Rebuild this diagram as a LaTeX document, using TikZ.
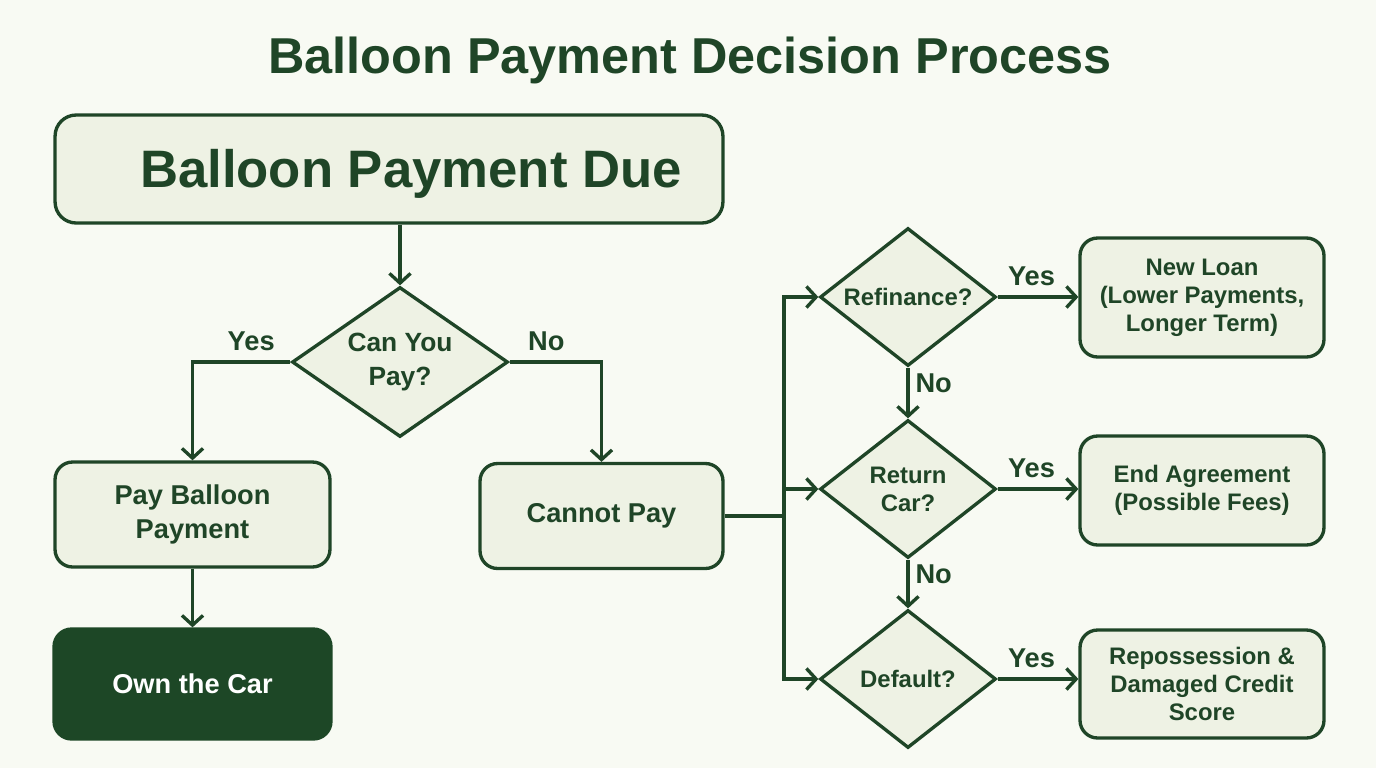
\documentclass[tikz,border=0pt]{standalone}
\usepackage{fontspec}
\setmainfont{Liberation Sans}
\usepackage{xcolor}
\usepackage{tikz}
\usetikzlibrary{arrows.meta,positioning,calc,shapes.geometric}
\definecolor{ink}{HTML}{1F4527}
\definecolor{paper}{HTML}{F8FAF3}
\definecolor{pale}{HTML}{EEF2E4}
\definecolor{deep}{HTML}{1D4726}

\begin{document}
\begin{tikzpicture}[
  x=0.02cm, y=-0.02cm,
  box/.style={draw=ink, line width=1.9pt, rounded corners=10pt, fill=pale, align=center, text=ink,
    font=\bfseries\fontsize{15.5}{19}\selectfont},
  ask/.style={draw=ink, line width=1.9pt, diamond, fill=pale, align=center, text=ink, inner sep=0pt,
    font=\bfseries\fontsize{15}{19}\selectfont},
  small/.style={font=\bfseries\fontsize{13.6}{16}\selectfont},
  lbl/.style={text=ink, font=\bfseries\fontsize{15.5}{19}\selectfont},
  arrow/.style={-{Straight Barb[length=5.5pt,width=12pt]}, draw=ink, line width=1.9pt},
]
\useasboundingbox[fill=paper] (0,0) rectangle (1376,768);
\node[text=ink, font=\bfseries\fontsize{28.7}{34}\selectfont] (title) at (690,60) {Balloon Payment Decision Process};

\node[box, minimum width=13.36cm, minimum height=2.16cm, rounded corners=12pt,
  font=\bfseries\fontsize{30}{36}\selectfont] (due) at (389,169) {};
\node[text=ink, font=\bfseries\fontsize{30}{36}\selectfont] (duetext) at (411,174) {Balloon Payment Due};
\node[ask, minimum width=4.32cm, minimum height=3cm, aspect=1.44] (can) at (400,362) {Can You\\Pay?};
\node[box, minimum width=5.5cm, minimum height=2.1cm] (pay) at (192.5,514.5) {Pay Balloon\\Payment};
\node[box, minimum width=4.86cm, minimum height=2.1cm] (cannot) at (601.5,516) {Cannot Pay};
\node[box, fill=deep, draw=deep, text=white, minimum width=5.54cm, minimum height=2.2cm] (own) at (192.5,684) {Own the Car};

\node[ask, small, minimum width=3.52cm, minimum height=2.76cm, aspect=1.275] (refi) at (908,297) {Refinance?};
\node[ask, small, minimum width=3.52cm, minimum height=2.76cm, aspect=1.275] (ret) at (908,489) {Return\\Car?};
\node[ask, small, minimum width=3.52cm, minimum height=2.76cm, aspect=1.275] (dflt) at (908,679) {Default?};

\node[box, small, minimum width=4.88cm, minimum height=2.38cm] (loan) at (1202,297.5) {New Loan\\(Lower Payments,\\Longer Term)};
\node[box, small, minimum width=4.88cm, minimum height=2.18cm] (endag) at (1202,490.5) {End Agreement\\(Possible Fees)};
\node[box, small, minimum width=4.88cm, minimum height=2.16cm] (repo) at (1202,684) {Repossession \&\\Damaged Credit\\Score};

\coordinate (bus) at (784,516);

\draw[arrow] (due.south -| can.north) -- (can.north);
\draw[arrow] (can.west) -| node[lbl, pos=0.2, above, yshift=2pt] {Yes} (pay.north);
\draw[arrow] (can.east) -| node[lbl, pos=0.2, above, yshift=2pt] {No} (cannot.north);
\draw[arrow] (pay) -- (own);
\draw[line width=1.9pt, ink] (cannot.east) -- (bus);
\draw[arrow] (bus) |- (refi.west);
\draw[arrow] (bus) |- (ret.west);
\draw[arrow] (bus) |- (dflt.west);
\draw[arrow] (refi) -- node[lbl, pos=0.3, right] {No} (ret);
\draw[arrow] (ret) -- node[lbl, pos=0.3, right] {No} (dflt);
\draw[arrow] (refi.east) -- node[lbl, pos=0.42, above, yshift=2pt] {Yes} (loan.west |- refi.east);
\draw[arrow] (ret.east) -- node[lbl, pos=0.42, above, yshift=2pt] {Yes} (endag.west |- ret.east);
\draw[arrow] (dflt.east) -- node[lbl, pos=0.42, above, yshift=2pt] {Yes} (repo.west |- dflt.east);
\end{tikzpicture}
\end{document}
